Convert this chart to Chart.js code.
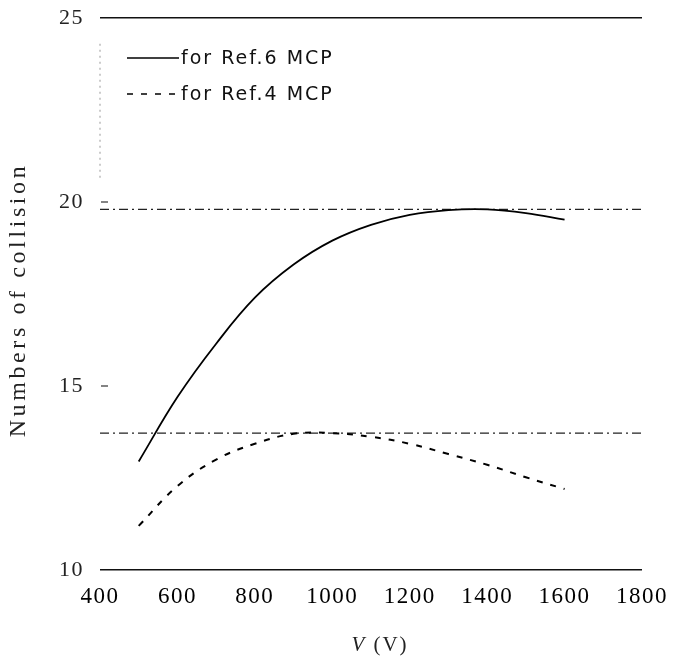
<!DOCTYPE html>
<html>
<head>
<meta charset="utf-8">
<script src="https://cdn.jsdelivr.net/npm/chart.js@4/dist/chart.umd.min.js"></script>
<style>
  html, body { margin: 0; padding: 0; background: #fff; }
  #wrap { width: 675px; height: 657px; }
</style>
</head>
<body>
<div id="wrap"><canvas id="chart"></canvas></div>
<script>
// ------------------- DATA -------------------
const voltages = [500, 600, 700, 800, 900, 1000, 1100, 1200, 1300, 1400, 1500, 1600];
const ref6Collisions = [12.95, 14.70, 16.15, 17.40, 18.30, 18.95, 19.38, 19.65, 19.78, 19.80, 19.70, 19.52];
const ref4Collisions = [11.20, 12.28, 13.00, 13.43, 13.70, 13.72, 13.62, 13.43, 13.15, 12.86, 12.52, 12.20];
const refLevels = [19.80, 13.72]; // dash-dot reference lines
const xTicks = [400, 600, 800, 1000, 1200, 1400, 1600, 1800];
const yTicks = [10, 15, 20, 25];
const legendLabels = ["for Ref.6 MCP", "for Ref.4 MCP"];
const xTitle = ["V", " (V)"];
const yTitle = "Numbers of collision";

const toPoints = (xs, ys) => xs.map((x, i) => ({ x: x, y: ys[i] }));
const flatLine = level => [{ x: xTicks[0], y: level }, { x: xTicks[xTicks.length - 1], y: level }];

// ------------------- PLUGINS -------------------
// slightly spaced lettering for the tick labels
const spacedText = {
  id: "spacedText",
  beforeDraw(chart) { chart.ctx.letterSpacing = "1.5px"; },
  afterDraw(chart) { chart.ctx.letterSpacing = "0px"; }
};

// legend inside the plot, top-left
const innerLegend = {
  id: "innerLegend",
  afterDraw(chart) {
    const c = chart.ctx;
    const left = chart.chartArea.left + 27;
    const rows = [58, 94];
    c.save();
    c.font = "19px 'DejaVu Sans'";
    c.fillStyle = "#111";
    c.textBaseline = "middle";
    c.letterSpacing = "2px";
    [0, 1].forEach(i => {
      const ds = chart.data.datasets[i];
      c.strokeStyle = "#000";
      c.lineWidth = 1.6;
      c.setLineDash(ds.borderDash || []);
      c.beginPath();
      c.moveTo(left, rows[i]);
      c.lineTo(left + 52, rows[i]);
      c.stroke();
      c.setLineDash([]);
      c.fillText(legendLabels[i], left + 54, rows[i] + 1);
    });
    c.restore();
  }
};

// axis titles, inner tick marks, faint dotted axis piece
const axisMarks = {
  id: "axisMarks",
  afterDraw(chart) {
    const c = chart.ctx;
    const y = chart.scales.y;
    const area = chart.chartArea;
    const x0 = area.left;
    c.save();
    c.strokeStyle = "#333";
    c.lineWidth = 1.2;
    [15, 20].forEach(v => {
      const py = y.getPixelForValue(v);
      c.beginPath();
      c.moveTo(x0 + 1, py);
      c.lineTo(x0 + 8, py);
      c.stroke();
    });
    c.strokeStyle = "#999";
    c.lineWidth = 1;
    c.setLineDash([2, 4]);
    c.beginPath();
    c.moveTo(x0, y.getPixelForValue(24.3));
    c.lineTo(x0, y.getPixelForValue(20.6));
    c.stroke();
    c.setLineDash([]);

    // y title
    c.fillStyle = "#222";
    c.textBaseline = "middle";
    c.textAlign = "center";
    c.font = "24px 'Liberation Serif'";
    c.letterSpacing = "3.6px";
    c.save();
    c.translate(19, 300);
    c.rotate(-Math.PI / 2);
    c.fillText(yTitle, 0, 0);
    c.restore();

    // x title, first V italic
    c.letterSpacing = "2px";
    c.textAlign = "left";
    c.fillStyle = "#222";
    c.font = "italic 21px 'Liberation Serif'";
    const w0 = c.measureText(xTitle[0]).width;
    c.font = "21px 'Liberation Serif'";
    const w1 = c.measureText(xTitle[1]).width;
    const sx = 380 - (w0 + w1) / 2;
    c.font = "italic 21px 'Liberation Serif'";
    c.fillText(xTitle[0], sx, 645);
    c.font = "21px 'Liberation Serif'";
    c.fillText(xTitle[1], sx + w0, 645);
    c.restore();
  }
};

// ------------------- CHART -------------------
const ctx = document.getElementById("chart").getContext("2d");
new Chart(ctx, {
  type: "line",
  data: {
    datasets: [
      {
        label: legendLabels[0],
        data: toPoints(voltages, ref6Collisions),
        borderColor: "#000",
        borderWidth: 1.8,
        pointRadius: 0,
        tension: 0.4,
        fill: false
      },
      {
        label: legendLabels[1],
        data: toPoints(voltages, ref4Collisions),
        borderColor: "#000",
        borderWidth: 2,
        borderDash: [6, 8],
        pointRadius: 0,
        tension: 0.4,
        fill: false
      },
      {
        label: "ref-high",
        data: flatLine(refLevels[0]),
        borderColor: "#222",
        borderWidth: 1.3,
        borderDash: [9, 4, 2, 4],
        pointRadius: 0,
        fill: false
      },
      {
        label: "ref-low",
        data: flatLine(refLevels[1]),
        borderColor: "#222",
        borderWidth: 1.3,
        borderDash: [9, 4, 2, 4],
        pointRadius: 0,
        fill: false
      }
    ]
  },
  options: {
    responsive: true,
    maintainAspectRatio: false,
    animation: false,
    layout: { padding: { left: 0, right: 33, top: 18, bottom: 0 } },
    plugins: {
      legend: { display: false },
      tooltip: { enabled: false }
    },
    scales: {
      x: {
        type: "linear",
        min: xTicks[0],
        max: xTicks[xTicks.length - 1],
        afterBuildTicks: s => { s.ticks = xTicks.map(v => ({ value: v })); },
        afterFit: s => { s.height = 657 - 570; s.paddingLeft = 0; s.paddingRight = 0; },
        grid: { display: false, drawTicks: false },
        border: { display: false },
        ticks: {
          color: "#000",
          font: { family: "'Liberation Serif'", size: 23 },
          padding: 13,
          maxRotation: 0,
          callback: v => String(v)
        }
      },
      y: {
        type: "linear",
        min: 10,
        max: 25,
        afterBuildTicks: s => { s.ticks = yTicks.map(v => ({ value: v })); },
        afterFit: s => { s.width = 100; s.paddingTop = 0; s.paddingBottom = 0; },
        grid: {
          drawTicks: false,
          color: c => (c.tick.value === 10 || c.tick.value === 25) ? "#111" : "rgba(0,0,0,0)",
          lineWidth: 1.5
        },
        border: { display: false },
        ticks: {
          color: "#222",
          font: { family: "'Liberation Serif'", size: 22 },
          padding: 16,
          callback: v => String(v)
        }
      }
    }
  },
  plugins: [spacedText, innerLegend, axisMarks]
});
</script>
</body>
</html>
